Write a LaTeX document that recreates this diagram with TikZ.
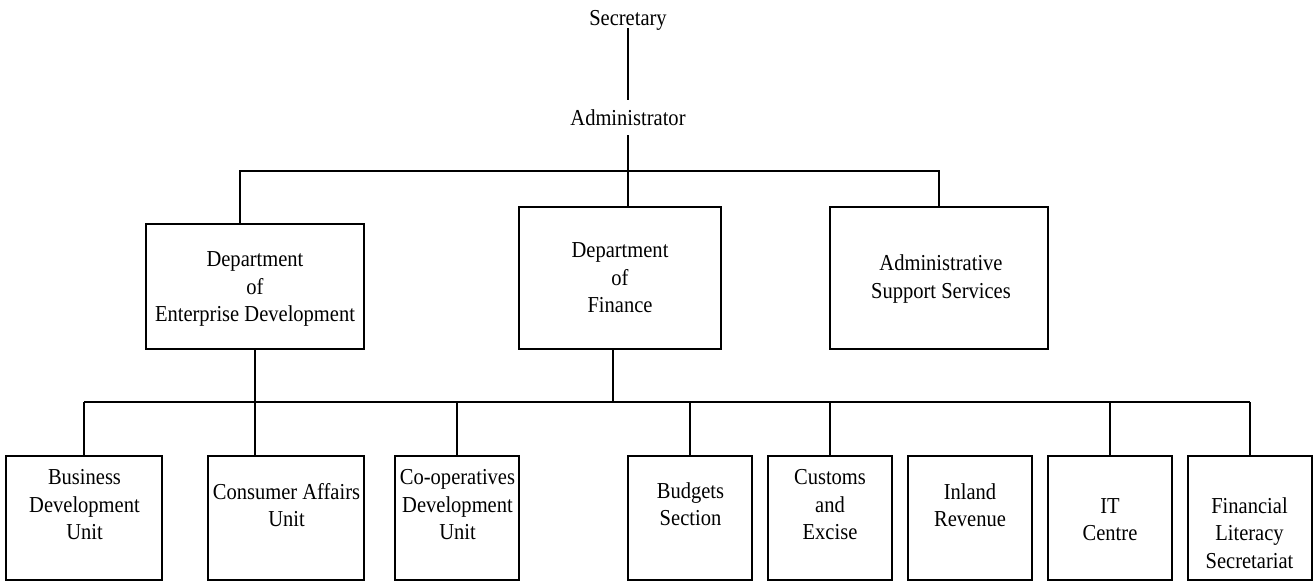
\documentclass[tikz,border=0pt]{standalone}
\usepackage{fontspec}
\setmainfont[FakeStretch=0.9]{Liberation Serif}
\begin{document}
\begin{tikzpicture}[x=1pt,y=-1pt,
  line width=1.2pt,
  every node/.style={font=\fontsize{22.8}{27.5}\selectfont},
  lbl/.style={anchor=base,inner sep=0pt,align=center},
  orgbox/.style 2 args={draw,line width=1.2pt,inner sep=0pt,
    minimum width=#1pt,minimum height=#2pt}]
\useasboundingbox (0,0) rectangle (1313,582);

% top of the hierarchy
\node[lbl] (sec) at (628,25.7) {Secretary};
\node[lbl] (adm) at (628,125) {Administrator};

% departments (label anchors sit on the last line's baseline)
\node[orgbox={218}{125}] (ent) at (255,286.5) {};
\node[orgbox={202}{142}] (fin) at (620,278) {};
\node[orgbox={218}{142}] (ass) at (939,278) {};
\node[lbl] (ent-t) at (255,321.5) {Department\\of\\Enterprise Development};
\node[lbl] (fin-t) at (620,312.5) {Department\\of\\Finance};
\node[lbl] (ass-t) at (941,298) {Administrative\\Support Services};

% units and sections
\node[orgbox={156}{124}] (bdu) at (84,518) {};
\node[orgbox={156}{124}] (cau) at (286,518) {};
\node[orgbox={124}{124}] (cdu) at (457,518) {};
\node[orgbox={124}{124}] (bud) at (690,518) {};
\node[orgbox={124}{124}] (cex) at (830,518) {};
\node[orgbox={124}{124}] (inr) at (970,518) {};
\node[orgbox={124}{124}] (itc) at (1110,518) {};
\node[orgbox={124}{124}] (fls) at (1250,518) {};
\node[lbl] (bdu-t) at (84.5,539.5) {Business\\Development\\Unit};
\node[lbl] (cau-t) at (286.5,526.5) {Consumer Affairs\\Unit};
\node[lbl] (cdu-t) at (457.5,539.5) {Co-operatives\\Development\\Unit};
\node[lbl] (bud-t) at (690.5,525.5) {Budgets\\Section};
\node[lbl] (cex-t) at (830,539.5) {Customs\\and\\Excise};
\node[lbl] (inr-t) at (970,526.5) {Inland\\Revenue};
\node[lbl] (itc-t) at (1110,540.5) {IT\\Centre};
\node[lbl] (fls-t) at (1249.5,568) {Financial\\Literacy\\Secretariat};

% connectors: top
\draw ([yshift=-2.3pt]sec.base) -- ([yshift=25pt]adm.base);
\draw ([yshift=-10pt]adm.base) -- (adm.base |- fin.north);
\coordinate (topbus) at (240,171);
\draw (topbus |- ent.north) -- (topbus) -- (ass.north |- topbus) -- (ass.north);

% connectors: bottom
\coordinate (lowbus) at (0,402);
\draw (bdu.north |- lowbus) -- (fls.north |- lowbus);
\draw (ent.south) -- (ent.south |- cau.north);
\draw ([xshift=-7pt]fin.south) -- ([xshift=-7pt]fin.south |- lowbus);
\foreach \u in {bdu,cdu,bud,cex,itc,fls}
  \draw (\u.north |- lowbus) -- (\u.north);
\end{tikzpicture}
\end{document}
